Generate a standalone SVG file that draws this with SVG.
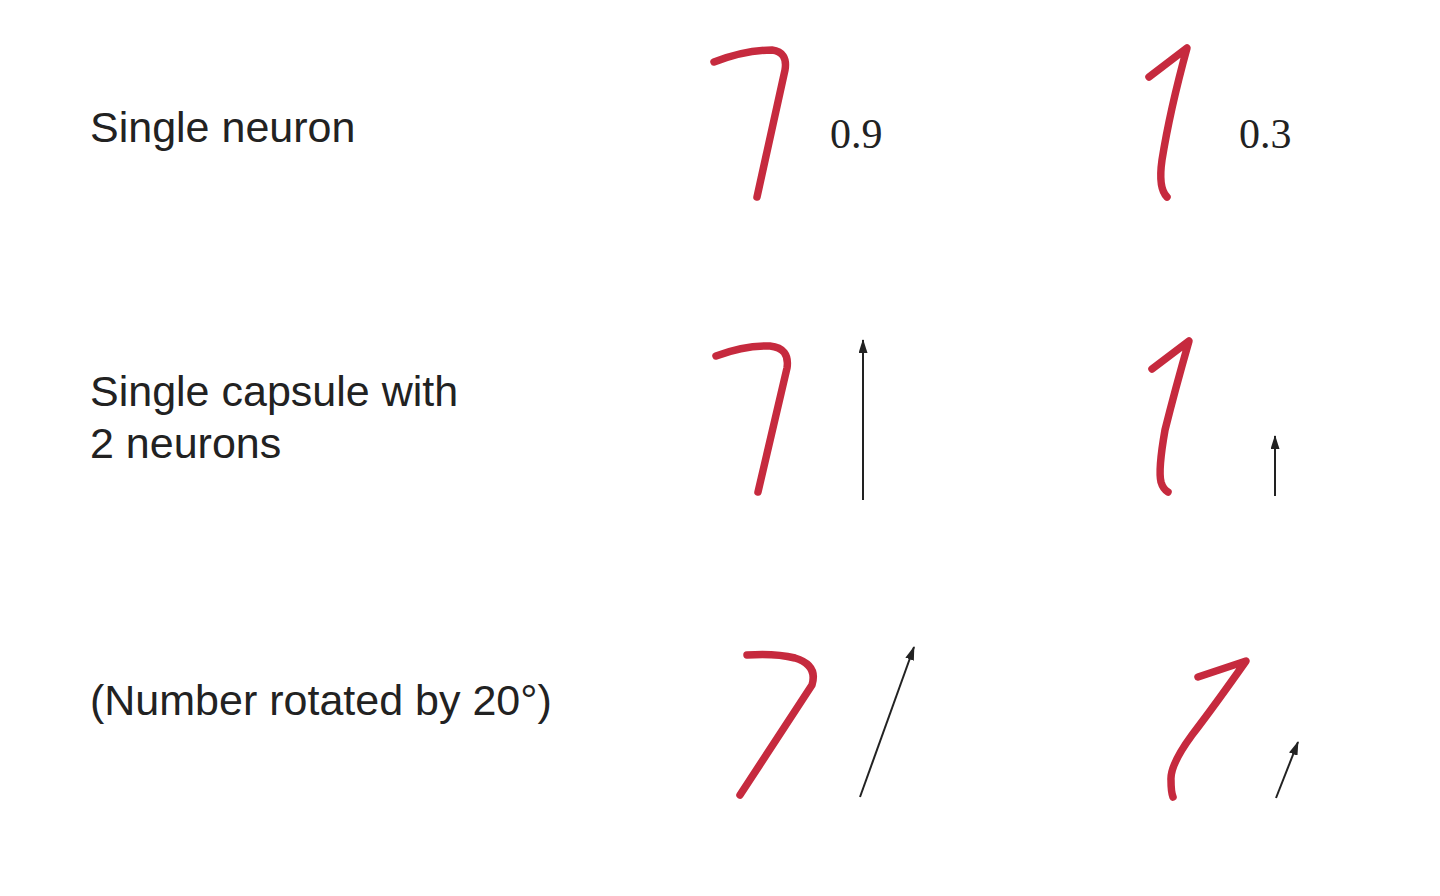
<svg xmlns="http://www.w3.org/2000/svg" width="1440" height="896" viewBox="0 0 1440 896">
<defs>
<style>
.lbl{font-family:"Liberation Sans",Arial,sans-serif;font-size:43px;fill:#222}
.num{font-family:"Liberation Serif","Times New Roman",serif;font-size:42px;fill:#222}
.ink{fill:none;stroke:#c62a3e;stroke-width:7.5;stroke-linecap:round;stroke-linejoin:round}
.vec{fill:none;stroke:#222;stroke-width:2}
</style>
<marker id="ahb" viewBox="0 0 14 9" refX="13" refY="4.5" markerWidth="14" markerHeight="9" orient="auto" markerUnits="userSpaceOnUse">
<path d="M0,0 L14,4.5 L0,9 Z" fill="#222"/>
</marker>
</defs>
<rect width="1440" height="896" fill="#ffffff"/>
<g id="labels">
<text class="lbl" x="90" y="142">Single neuron</text>
<text class="lbl" x="90" y="406">Single capsule with</text>
<text class="lbl" x="90" y="458">2 neurons</text>
<text class="lbl" x="90" y="715">(Number rotated by 20°)</text>
</g>
<g id="row1">
<g id="seven1"><path class="ink" d="M714,62 Q745,50 772,50 Q788,52 785,70 L757,197"/></g>
<g id="val1"><text class="num" x="830" y="148">0.9</text></g>
<g id="one1"><path class="ink" d="M1149,77 L1187,48 Q1170,110 1162,160 Q1158,188 1167,197"/></g>
<g id="val2"><text class="num" x="1239" y="148">0.3</text></g>
</g>
<g id="row2">
<g id="seven2"><path class="ink" d="M716,356 Q745,345 770,346 Q790,348 787,368 L758,492"/></g>
<g id="one2"><path class="ink" d="M1152,369 L1189,341 Q1175,390 1165,430 Q1158,470 1161,482 Q1163,489 1168,492"/></g>
</g>
<g id="row3">
<g id="seven3"><path class="ink" d="M747,655 Q775,653 795,658 Q818,665 812,685 L740,795"/></g>
<g id="one3"><path class="ink" d="M1198,677 L1246,661 Q1215,705 1192,735 Q1170,765 1171,780 Q1171,792 1173,797"/></g>
</g>
<g id="connectors">
<line class="vec" x1="863" y1="500" x2="863" y2="340" marker-end="url(#ahb)"/>
<line class="vec" x1="1275" y1="496" x2="1275" y2="436" marker-end="url(#ahb)"/>
<line class="vec" x1="860" y1="797" x2="914" y2="647" marker-end="url(#ahb)"/>
<line class="vec" x1="1276" y1="798" x2="1298" y2="742" marker-end="url(#ahb)"/>
</g>
</svg>
